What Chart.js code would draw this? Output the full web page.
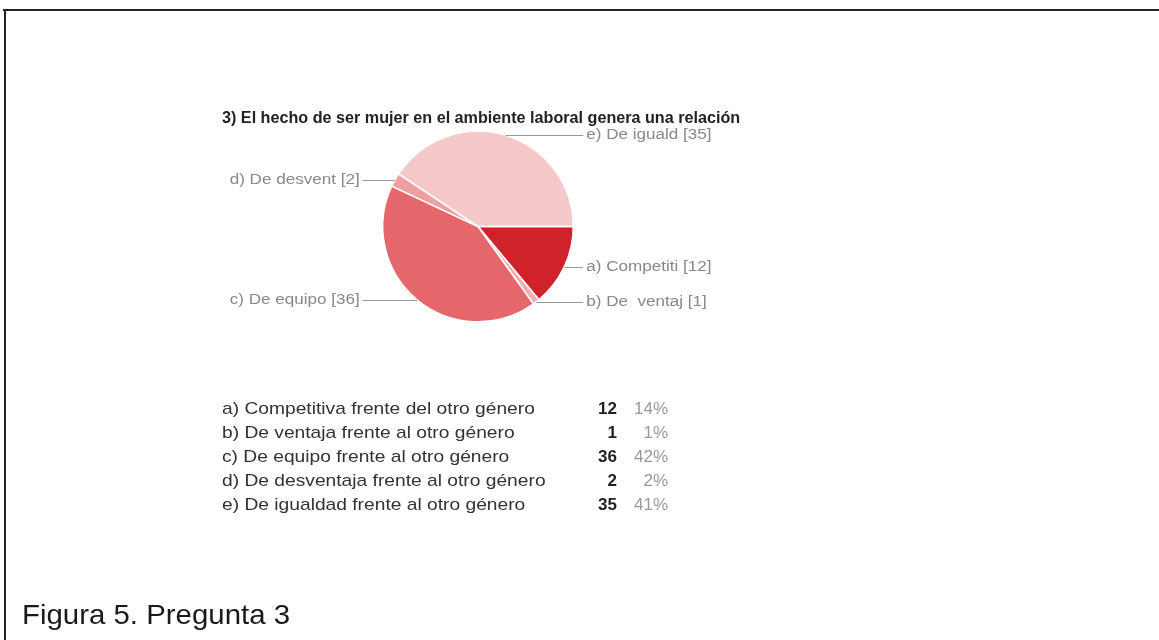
<!DOCTYPE html>
<html><head><meta charset="utf-8">
<script src="https://cdn.jsdelivr.net/npm/chart.js@4/dist/chart.umd.min.js"></script>
<style>
html,body{margin:0;padding:0;background:#fff;width:1159px;height:640px;overflow:hidden;font-family:"Liberation Sans",Arial,sans-serif;}
#frameTop{position:absolute;left:3px;top:9px;width:1156px;height:2px;background:#222;}
#frameLeft{position:absolute;left:4px;top:9px;width:2px;height:631px;background:#222;}
#title{position:absolute;left:222px;top:109px;font-weight:bold;font-size:16px;color:#222;white-space:nowrap;transform:scaleX(1.01);transform-origin:left center;}
#wrap{position:absolute;left:0;top:0;width:1159px;height:640px;}
.row{position:absolute;left:222px;height:24px;line-height:24px;font-size:17px;white-space:nowrap;}
.row .lab{position:absolute;left:0;top:0;color:#333;display:inline-block;transform:scaleX(1.13);transform-origin:left center;}
.row .cnt{position:absolute;right:-395px;top:0;font-weight:bold;color:#222;text-align:right;width:60px;}
.row .pct{position:absolute;right:-446px;top:0;color:#999;text-align:right;width:60px;}
#caption{position:absolute;left:22px;top:599px;font-size:28px;color:#1a1a1a;white-space:nowrap;transform:scaleX(1.05);transform-origin:left center;}
</style>
</head><body>
<div id="wrap"><canvas id="c" width="1159" height="640"></canvas></div>
<div id="frameTop"></div><div id="frameLeft"></div>
<div id="title"></div>
<div id="table"></div>
<div id="caption"></div>
<script>
const chartTitle = "3) El hecho de ser mujer en el ambiente laboral genera una relación";
const caption = "Figura 5. Pregunta 3";
const categories = [
  "a) Competitiva frente del otro género",
  "b) De ventaja frente al otro género",
  "c) De equipo frente al otro género",
  "d) De desventaja frente al otro género",
  "e) De igualdad frente al otro género"
];
const shortLabels = ["a) Competiti", "b) De  ventaj", "c) De equipo", "d) De desvent", "e) De iguald"];
const counts = [12, 1, 36, 2, 35];
const colors = ["#d0222a", "#f3b0b0", "#e5666b", "#eda0a0", "#f5c9c9"];

document.getElementById('title').textContent = chartTitle;
document.getElementById('caption').textContent = caption;
const total = counts.reduce((a,b)=>a+b,0);
const tbl = document.getElementById('table');
categories.forEach((c,i)=>{
  const r = document.createElement('div');
  r.className='row';
  r.style.top = (397 + i*24) + 'px';
  r.innerHTML = '<span class="lab"></span><span class="cnt"></span><span class="pct"></span>';
  r.querySelector('.lab').textContent = c;
  r.querySelector('.cnt').textContent = counts[i];
  r.querySelector('.pct').textContent = Math.round(counts[i]/total*100) + '%';
  tbl.appendChild(r);
});

const labelPlugin = {
  id:'sliceLabels',
  afterDatasetsDraw(chart){
    const ctx = chart.ctx;
    const meta = chart.getDatasetMeta(0);
    const sx = 1.22;
    ctx.save();
    ctx.font = '14px "Liberation Sans", Arial, sans-serif';
    meta.data.forEach((arc,i)=>{
      const p = arc.getProps(['x','y','startAngle','endAngle','outerRadius'], true);
      const mid = (p.startAngle + p.endAngle)/2;
      const ax = p.x + Math.cos(mid)*p.outerRadius;
      const ay = p.y + Math.sin(mid)*p.outerRadius;
      const right = Math.cos(mid) >= 0;
      const endX = right ? p.x + p.outerRadius + 10 : p.x - p.outerRadius - 20;
      const ly = Math.round(ay) + 0.5;
      ctx.strokeStyle = '#999';
      ctx.lineWidth = 1;
      ctx.beginPath();
      ctx.moveTo(ax, ly);
      ctx.lineTo(endX, ly);
      ctx.stroke();
      ctx.fillStyle = '#888';
      ctx.textBaseline = 'middle';
      ctx.textAlign = right ? 'left' : 'right';
      const tx = right ? endX + 3 : endX - 3;
      ctx.save();
      ctx.translate(tx, ay);
      ctx.scale(sx, 1);
      ctx.fillText(shortLabels[i] + ' [' + counts[i] + ']', 0, 0);
      ctx.restore();
    });
    ctx.restore();
  }
};

new Chart(document.getElementById('c'), {
  type:'pie',
  data:{labels:categories, datasets:[{data:counts, backgroundColor:colors, borderColor:'#ffffff', borderWidth:1.5, hoverOffset:0}]},
  options:{
    responsive:false, animation:false, rotation:90,
    layout:{padding:{left:382, top:130, right:585, bottom:317}},
    plugins:{legend:{display:false}, tooltip:{enabled:false}, title:{display:false}}
  },
  plugins:[labelPlugin]
});
</script>
</body></html>
